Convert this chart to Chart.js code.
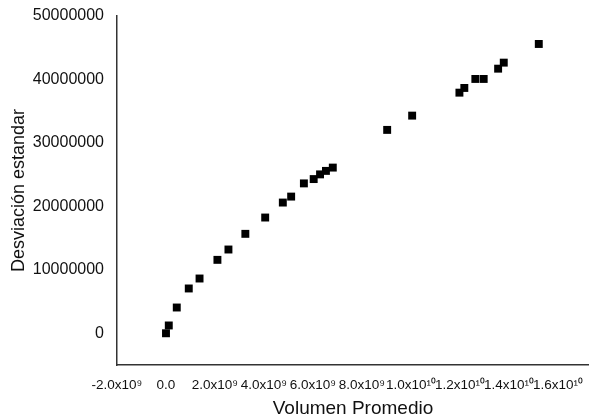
<!DOCTYPE html>
<html>
<head>
<meta charset="utf-8">
<script src="https://cdn.jsdelivr.net/npm/chart.js@4"></script>
<style>
  html, body { margin: 0; padding: 0; background: #fff; }
  #wrap { width: 589px; height: 418px; }
</style>
</head>
<body>
<div id="wrap"><canvas id="chart" width="589" height="418"></canvas></div>
<script>
// volumen promedio (x) vs desviación estándar (y)
const volumenPromedio = [
  0.0e9, 0.114e9, 0.44e9, 0.93e9, 1.37e9, 2.10e9, 2.55e9, 3.24e9, 4.05e9,
  4.77e9, 5.11e9, 5.63e9, 6.03e9, 6.29e9, 6.53e9, 6.81e9, 9.03e9, 10.05e9,
  11.98e9, 12.18e9, 12.63e9, 12.97e9, 13.56e9, 13.79e9, 15.22e9
];
const desviacion = [
  0.0e6, 1.23e6, 4.06e6, 7.06e6, 8.63e6, 11.57e6, 13.2e6, 15.67e6, 18.24e6,
  20.6e6, 21.54e6, 23.62e6, 24.3e6, 25.04e6, 25.59e6, 26.11e6, 32.05e6, 34.3e6,
  37.92e6, 38.66e6, 40.08e6, 40.08e6, 41.7e6, 42.65e6, 45.59e6
];

const xTickValues = [-2e9, 0, 2e9, 4e9, 6e9, 8e9, 1e10, 1.2e10, 1.4e10, 1.6e10];
const xTickLabels = ["-2.0x10⁹", "0.0", "2.0x10⁹", "4.0x10⁹", "6.0x10⁹", "8.0x10⁹",
  "1.0x10¹⁰", "1.2x10¹⁰", "1.4x10¹⁰", "1.6x10¹⁰"];
const yTickValues = [0, 10000000, 20000000, 30000000, 40000000, 50000000];
const yTickLabels = ["0", "10000000", "20000000", "30000000", "40000000", "50000000"];

const points = volumenPromedio.map((v, i) => ({ x: v, y: desviacion[i] }));

const ctx = document.getElementById("chart").getContext("2d");
new Chart(ctx, {
  type: "scatter",
  data: {
    datasets: [{
      data: points,
      pointStyle: "rect",
      pointRadius: 5.6,
      pointBorderWidth: 0,
      backgroundColor: "#000",
      borderColor: "#000",
    }],
  },
  options: {
    responsive: false,
    animation: false,
    // autoPadding off so the plot runs to the right edge like the original
    layout: { autoPadding: false, padding: { top: 16, right: 0, bottom: 0, left: 0 } },
    plugins: { legend: { display: false }, tooltip: { enabled: false } },
    scales: {
      x: {
        type: "linear",
        min: -2e9,
        max: 1.727e10,
        grid: { display: false, drawTicks: false },
        border: { display: true, color: "#333", width: 1.5 },
        afterBuildTicks: (s) => { s.ticks = xTickValues.map((v) => ({ value: v })); },
        afterFit: (s) => {
          s.height = 53;
          s.paddingLeft = 0;
          s.paddingRight = 0;
        },
        ticks: {
          autoSkip: false,
          maxRotation: 0,
          padding: 12,
          color: "#111",
          font: { family: "Liberation Sans", size: 13.5 },
          callback: (v, i) => xTickLabels[i],
        },
        title: {
          display: true,
          text: "Volumen Promedio",
          color: "#111",
          font: { family: "Liberation Sans", size: 19 },
          padding: { top: 0, bottom: -2 },
        },
      },
      y: {
        type: "linear",
        min: -5000000,
        max: 50000000,
        grid: { display: false, drawTicks: false },
        border: { display: true, color: "#333", width: 1.5 },
        afterBuildTicks: (s) => { s.ticks = yTickValues.map((v) => ({ value: v })); },
        afterFit: (s) => {
          s.width = 117;
          s.paddingTop = 0;
          s.paddingBottom = 0;
        },
        ticks: {
          padding: 13,
          color: "#111",
          font: { family: "Liberation Sans", size: 16 },
          callback: (v, i) => yTickLabels[i],
        },
        title: {
          display: true,
          text: "Desviación estandar",
          color: "#111",
          font: { family: "Liberation Sans", size: 18 },
          padding: { top: 8, bottom: 0 },
        },
      },
    },
  },
});
</script>
</body>
</html>
